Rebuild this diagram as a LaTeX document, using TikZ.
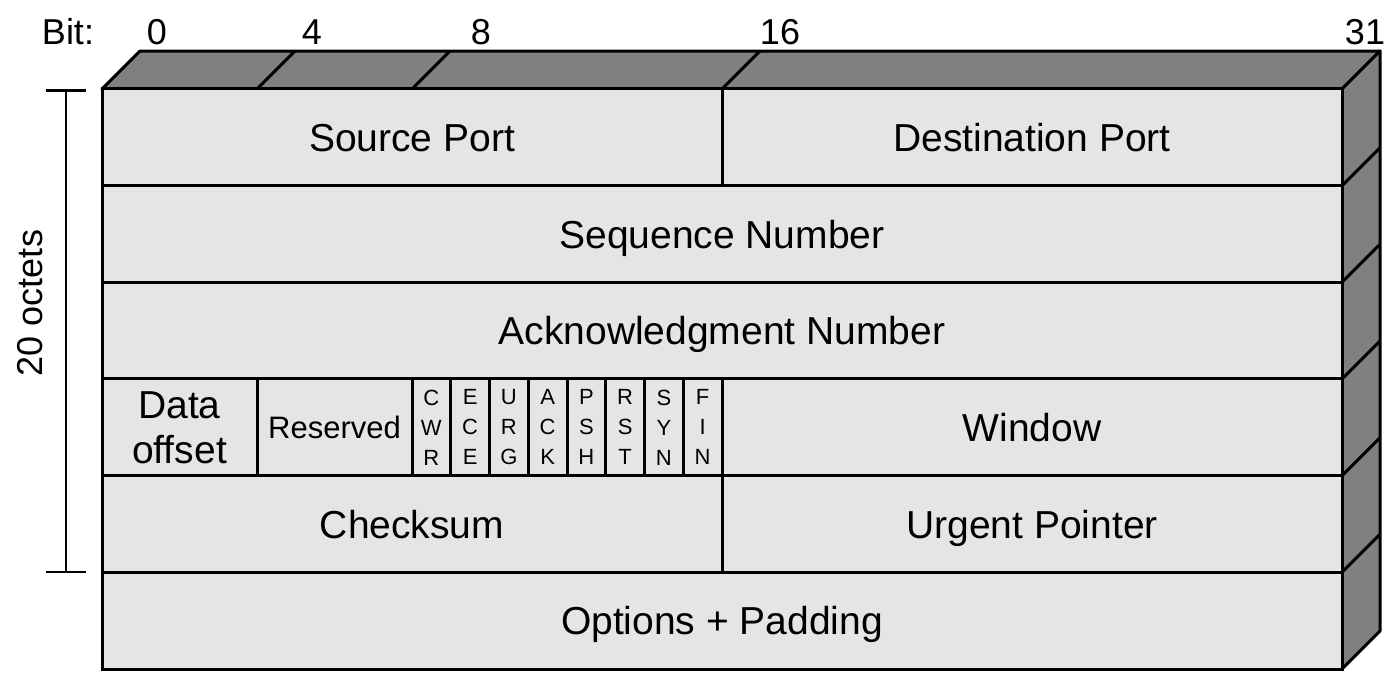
\documentclass[tikz,border=0pt]{standalone}
\usepackage{fontspec}
\setmainfont{Liberation Sans}
\usepackage{tikz}
\usetikzlibrary{arrows.meta}

\begin{document}
\begin{tikzpicture}[x=1pt, y=-1pt,
	field/.style={draw, line width=3pt, fill=gray!20, minimum width=#1, minimum height=96.67pt,
		inner sep=0pt, outer sep=0pt, align=center, font=\fontsize{39}{45}\selectfont},
	cell/.style={field=#1, text height=28pt, text depth=0pt},
	flag/.style={field=38.75pt, font=\fontsize{22}{30}\selectfont},
	face/.style={draw, line width=3pt, fill=gray, line join=round},
	edge/.style={line width=3pt},
	lbl/.style={inner sep=0pt, font=\fontsize{36}{40}\selectfont}]
	\useasboundingbox (0,0) rectangle (1392,688);
	% back faces
	\filldraw[face] (102,89) -- (140,51) -- (1380,51) -- (1342,89) -- cycle;
	\filldraw[face] (1342,89) -- (1380,51) -- (1380,631) -- (1342,669) -- cycle;
	% header fields
	\node[cell=620pt] (src) at (412,137.33) {Source Port};
	\node[cell=620pt] (dst) at (1032,137.33) {Destination Port};
	\node[cell=1240pt] (seq) at (722,234) {Sequence Number};
	\node[cell=1240pt] (ack) at (722,330.67) {Acknowledgment Number};
	\node[field=155pt] (off) at (179.5,427.33) {Data\\offset};
	\node[cell=155pt, text height=22pt, font=\fontsize{31}{34}\selectfont] (res) at (334.5,427.33) {Reserved};
	\foreach \fl [count=\i] in {C\\W\\R, E\\C\\E, U\\R\\G, A\\C\\K, P\\S\\H, R\\S\\T, S\\Y\\N, F\\I\\N}
		\node[flag] (flag\i) at ({412+38.75*(\i-0.5)},427.33) {\fl};
	\node[cell=620pt] (win) at (1032,427.33) {Window};
	\node[cell=620pt] (chk) at (412,524) {Checksum};
	\node[cell=620pt] (urg) at (1032,524) {Urgent Pointer};
	\node[cell=1240pt] (opt) at (722,620.67) {Options + Padding};
	% edges of the box
	\foreach \n in {off,res,src}
		\draw[edge] (\n.east |- src.north) -- ++(38,-38);
	\foreach \n in {dst,seq,ack,win,urg}
		\draw[edge] (\n.south east) -- ++(38,-38);
	% bit numbers
	\node[lbl] (bit) at (68,32) {Bit:};
	\node[lbl] (b0) at (157,32) {0};
	\node[lbl] (b4) at (312,32) {4};
	\node[lbl] (b8) at (481,32) {8};
	\node[lbl] (b16) at (780,32) {16};
	\node[lbl] (b31) at (1365,32) {31};
	% size
	\coordinate (top) at (66,89);
	\coordinate (bot) at (66,573);
	\draw[line width=2.5pt, {Bar[width=40pt]}-{Bar[width=40pt]}] (top) -- (bot);
	\node[lbl, rotate=90] (oct) at (30,303) {20 octets};
\end{tikzpicture}
\end{document}
